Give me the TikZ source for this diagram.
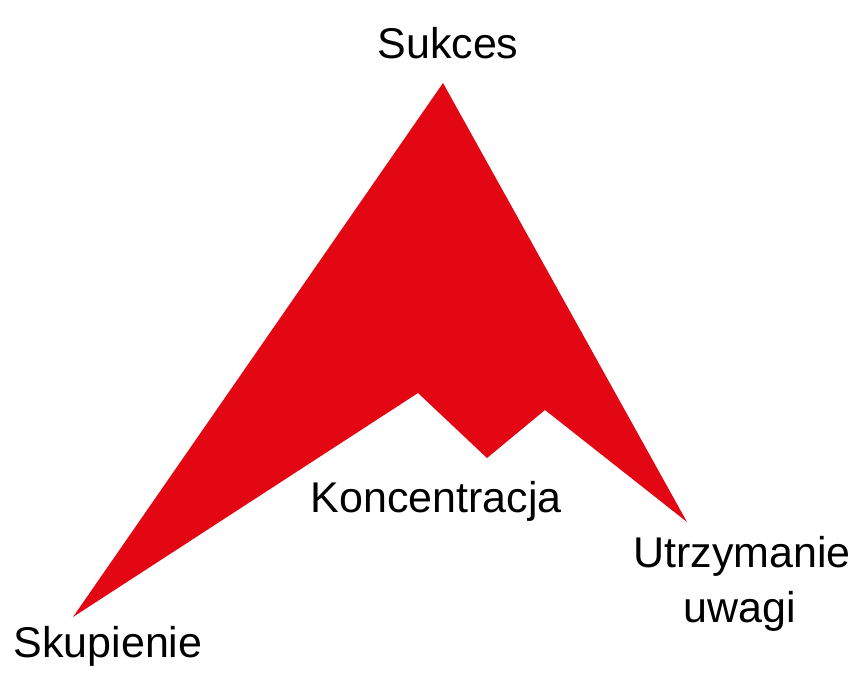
\documentclass[tikz,border=0pt]{standalone}
\usepackage{fontspec}
\setmainfont{Liberation Sans}
\definecolor{peakred}{HTML}{E30613}
\begin{document}
\begin{tikzpicture}[x=1pt,y=-1pt,
  lbl/.style={anchor=base,inner sep=0pt,font=\fontsize{43}{50}\selectfont,text=black}]
\useasboundingbox[fill=white] (0,0) rectangle (868,678);
\coordinate (apex) at (443,83);
\coordinate (rtip) at (687,522);
\coordinate (rpeak) at (545,410);
\coordinate (valley) at (487,458);
\coordinate (lpeak) at (418,393);
\coordinate (ltip) at (73,617);
\fill[peakred] (apex) -- (rtip) -- (rpeak) -- (valley) -- (lpeak) -- (ltip) -- cycle;
\node[lbl] (sukces) at (448,58) {Sukces};
\node[lbl] (konc) at (436,512) {Koncentracja};
\node[lbl] (skup) at (108,657) {Skupienie};
\node[lbl] (utrz) at (742,567) {Utrzymanie};
\node[lbl] (uwagi) at (740,622) {uwagi};
\end{tikzpicture}
\end{document}
